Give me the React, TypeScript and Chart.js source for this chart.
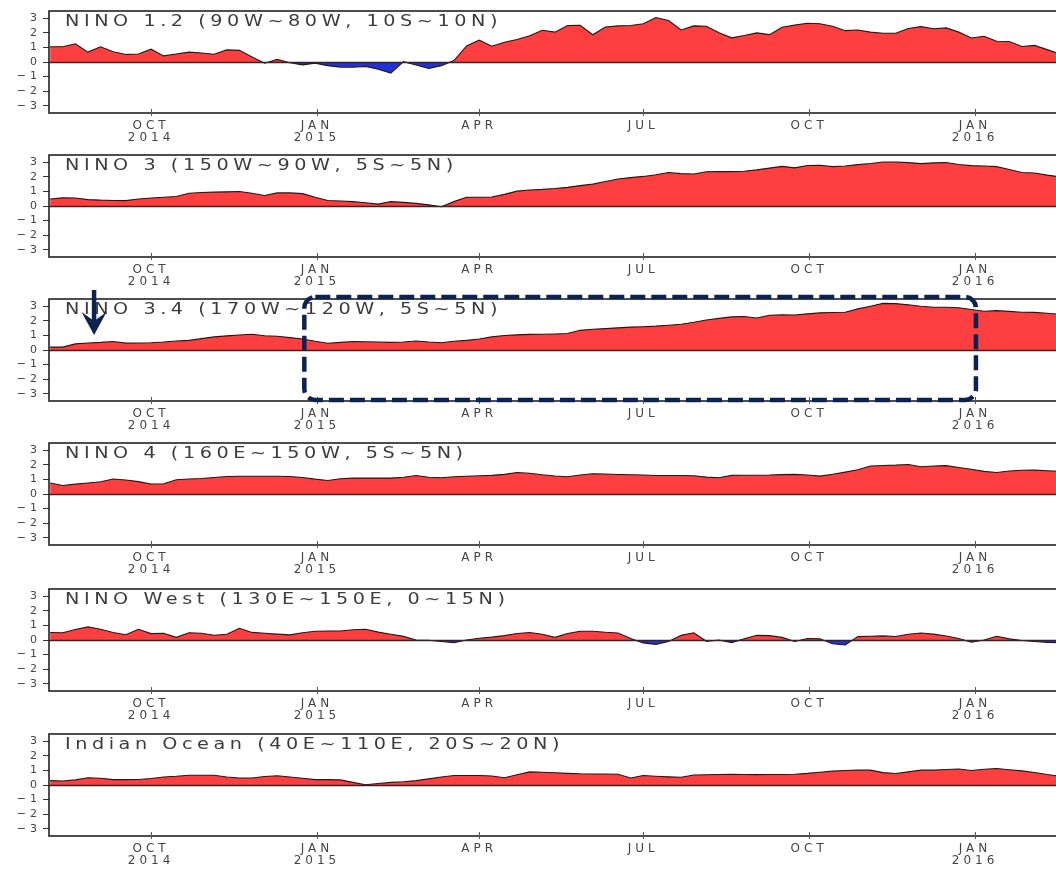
import React, { useEffect, useRef } from "react";
import { Chart, registerables } from "chart.js";

Chart.register(...registerables);

// Day numbers are counted from 2014-01-01 (day 0). Weekly means start on 2014-08-06.
const FIRST_WEEK_DAY = 217;
const WEEK_STEP = 7;
const WEEK_COUNT = 81;
const weekDays: number[] = Array.from({ length: WEEK_COUNT }, (_, i) => FIRST_WEEK_DAY + WEEK_STEP * i);

// Quarter ticks: 2014-10-01, 2015-01-01, 2015-04-01, 2015-07-01, 2015-10-01, 2016-01-01
const tickDays = [273, 365, 455, 546, 638, 730];
const tickLabels: string[][] = [["OCT", "2014"], ["JAN", "2015"], ["APR"], ["JUL"], ["OCT"], ["JAN", "2016"]];
const yTicks = [-3, -2, -1, 0, 1, 2, 3];

const regionTitles = [
  "NINO 1.2 (90W~80W, 10S~10N)",
  "NINO 3 (150W~90W, 5S~5N)",
  "NINO 3.4 (170W~120W, 5S~5N)",
  "NINO 4 (160E~150W, 5S~5N)",
  "NINO West (130E~150E, 0~15N)",
  "Indian Ocean (40E~110E, 20S~20N)",
];

// Weekly SST anomalies (°C)
const nino12 = [
  1.05, 1.05, 1.25, 0.68, 1.04, 0.7, 0.52, 0.55, 0.88, 0.42,
  0.55, 0.68, 0.62, 0.53, 0.83, 0.8, 0.35, -0.08, 0.18, -0.05,
  -0.2, -0.08, -0.25, -0.35, -0.36, -0.3, -0.5, -0.76, 0.02, -0.2,
  -0.44, -0.25, 0.1, 1.1, 1.5, 1.08, 1.35, 1.55, 1.8, 2.18,
  2.05, 2.5, 2.52, 1.87, 2.4, 2.48, 2.5, 2.62, 3.05, 2.85,
  2.2, 2.48, 2.45, 2.0, 1.66, 1.82, 2.0, 1.88, 2.38, 2.53,
  2.66, 2.62, 2.45, 2.15, 2.2, 2.05, 1.97, 1.97, 2.3, 2.43,
  2.28, 2.34, 2.05, 1.65, 1.77, 1.42, 1.41, 1.06, 1.14, 0.85,
  0.55,
];

const nino3 = [
  0.48, 0.56, 0.55, 0.44, 0.4, 0.38, 0.37, 0.48, 0.55, 0.6,
  0.65, 0.88, 0.93, 0.95, 0.97, 1.0, 0.88, 0.72, 0.9, 0.9,
  0.85, 0.6, 0.38, 0.34, 0.3, 0.22, 0.13, 0.3, 0.25, 0.18,
  0.08, -0.05, 0.3, 0.6, 0.6, 0.62, 0.8, 1.02, 1.1, 1.14,
  1.2, 1.28, 1.4, 1.5, 1.68, 1.85, 1.95, 2.03, 2.15, 2.3,
  2.22, 2.2, 2.35, 2.36, 2.36, 2.38, 2.48, 2.6, 2.72, 2.62,
  2.78, 2.8, 2.7, 2.75, 2.84, 2.92, 3.02, 3.02, 2.98, 2.91,
  2.96, 2.98, 2.85, 2.77, 2.75, 2.7, 2.5, 2.3, 2.26, 2.12,
  2.0,
];

const nino34 = [
  0.2, 0.2, 0.42, 0.48, 0.52, 0.58, 0.47, 0.48, 0.5, 0.55,
  0.62, 0.66, 0.78, 0.9, 0.97, 1.03, 1.08, 0.98, 0.94, 0.85,
  0.76, 0.6, 0.46, 0.52, 0.58, 0.57, 0.55, 0.52, 0.55, 0.62,
  0.55, 0.5, 0.6, 0.66, 0.76, 0.9, 1.0, 1.04, 1.07, 1.08,
  1.1, 1.13, 1.35, 1.42, 1.47, 1.52, 1.57, 1.6, 1.64, 1.7,
  1.77, 1.9, 2.06, 2.17, 2.27, 2.3, 2.2, 2.38, 2.42, 2.4,
  2.48, 2.55, 2.57, 2.59, 2.82, 3.0, 3.2, 3.18, 3.1, 3.0,
  2.93, 2.93, 2.9, 2.78, 2.66, 2.7, 2.65, 2.59, 2.58, 2.52,
  2.45,
];

const nino4 = [
  0.76, 0.58, 0.68, 0.76, 0.84, 1.03, 0.96, 0.85, 0.69, 0.7,
  0.98, 1.03, 1.06, 1.13, 1.2, 1.22, 1.22, 1.22, 1.22, 1.2,
  1.13, 1.02, 0.93, 1.05, 1.09, 1.09, 1.09, 1.09, 1.15, 1.27,
  1.15, 1.12, 1.18, 1.22, 1.25, 1.28, 1.35, 1.48, 1.42, 1.32,
  1.24, 1.18, 1.3, 1.39, 1.37, 1.34, 1.32, 1.3, 1.27, 1.27,
  1.27, 1.25, 1.16, 1.12, 1.28, 1.29, 1.29, 1.3, 1.33, 1.35,
  1.3, 1.23, 1.35, 1.5, 1.66, 1.92, 1.96, 1.98, 2.02, 1.87,
  1.92, 1.95, 1.82, 1.7, 1.55, 1.48, 1.58, 1.63, 1.64, 1.6,
  1.56,
];

const ninoWest = [
  0.51, 0.5, 0.72, 0.9, 0.74, 0.51, 0.36, 0.74, 0.44, 0.46,
  0.18, 0.5, 0.46, 0.33, 0.39, 0.8, 0.52, 0.46, 0.4, 0.35,
  0.5, 0.6, 0.62, 0.62, 0.7, 0.74, 0.54, 0.4, 0.25, 0.0,
  -0.02, -0.1, -0.18, 0.0, 0.12, 0.2, 0.3, 0.45, 0.51, 0.4,
  0.18, 0.45, 0.6, 0.6, 0.53, 0.48, 0.1, -0.2, -0.3, -0.1,
  0.32, 0.5, -0.09, 0.0, -0.18, 0.08, 0.32, 0.3, 0.18, -0.1,
  0.1, 0.08, -0.26, -0.34, 0.23, 0.26, 0.28, 0.24, 0.4, 0.48,
  0.4, 0.28, 0.1, -0.15, 0.0, 0.26, 0.08, -0.03, -0.1, -0.16,
  -0.18,
];

const indianOcean = [
  0.3, 0.27, 0.35, 0.5, 0.46, 0.37, 0.37, 0.38, 0.45, 0.55,
  0.6, 0.67, 0.67, 0.67, 0.55, 0.48, 0.48, 0.58, 0.63, 0.55,
  0.46, 0.37, 0.37, 0.35, 0.18, 0.02, 0.1, 0.18, 0.22, 0.3,
  0.42, 0.55, 0.65, 0.65, 0.65, 0.62, 0.5, 0.7, 0.9, 0.87,
  0.84, 0.8, 0.77, 0.76, 0.76, 0.74, 0.48, 0.65, 0.6, 0.56,
  0.53, 0.69, 0.7, 0.72, 0.73, 0.72, 0.71, 0.72, 0.72, 0.74,
  0.8, 0.88, 0.95, 1.0, 1.02, 1.02, 0.85, 0.79, 0.9, 1.02,
  1.02, 1.06, 1.1, 1.0, 1.08, 1.13, 1.05, 0.97, 0.86, 0.72,
  0.6,
];

const panelSeries = [nino12, nino3, nino34, nino4, ninoWest, indianOcean];

// Highlighted period on the NINO 3.4 panel (days) and the marker arrow position
const HIGHLIGHT_PANEL = 2;
const highlightDays = [358, 730.5];
const highlightRange = [3.64, -3.43];
const arrowDay = 241.4;
const arrowRange = [4.12, 1.03];

// Layout / style
const X_MIN = 216.4;
const X_MAX = 779.9;
const Y_MIN = -3.5;
const Y_MAX = 3.5;
const CANVAS_W = 1070;
const CANVAS_H = 146;
const PANEL_TOPS = [0, 144, 288, 432, 578, 723];
const WARM = "#fd3f3f";
const COOL = "#1f33d6";
const OUTLINE = "#2a1414";
const FRAME = "#222222";
const TEXT = "#444444";
const NAVY = "#0c2252";
const FONT = '"DejaVu Sans", "Liberation Sans", sans-serif';

function makePanelPlugin(title: string, highlighted: boolean) {
  return {
    id: "panelDecor",
    beforeDraw(chart: any) {
      chart.ctx.letterSpacing = "4px";
    },
    afterDraw(chart: any) {
      const { ctx, chartArea, scales } = chart;
      const xs = scales.x;
      const ys = scales.y;
      ctx.save();
      ctx.letterSpacing = "0px";

      // zero line
      const y0 = Math.round(ys.getPixelForValue(0)) + 0.5;
      ctx.strokeStyle = "#3a2222";
      ctx.lineWidth = 1.3;
      ctx.beginPath();
      ctx.moveTo(chartArea.left, y0);
      ctx.lineTo(chartArea.right, y0);
      ctx.stroke();

      // frame
      ctx.strokeStyle = FRAME;
      ctx.lineWidth = 1.6;
      ctx.strokeRect(chartArea.left, chartArea.top, chartArea.right - chartArea.left, chartArea.bottom - chartArea.top);

      // quarter tick marks across the bottom axis
      ctx.lineWidth = 1;
      ctx.strokeStyle = "#555";
      for (const d of tickDays) {
        const px = Math.round(xs.getPixelForValue(d)) + 0.5;
        ctx.beginPath();
        ctx.moveTo(px, chartArea.bottom - 4);
        ctx.lineTo(px, chartArea.bottom + 3);
        ctx.stroke();
      }

      // region title inside the plot
      ctx.translate(chartArea.left + 16, chartArea.top + 11);
      ctx.scale(1.2, 1);
      ctx.font = `16px ${FONT}`;
      ctx.letterSpacing = "3.8px";
      ctx.textBaseline = "middle";
      ctx.textAlign = "left";
      ctx.fillStyle = "#3c3c3c";
      ctx.fillText(title, 0, 0);
      ctx.restore();

      if (highlighted) {
        ctx.save();
        // dashed rounded box marking the highlighted period
        const bx1 = xs.getPixelForValue(highlightDays[0]);
        const bx2 = xs.getPixelForValue(highlightDays[1]);
        const by1 = ys.getPixelForValue(highlightRange[0]);
        const by2 = ys.getPixelForValue(highlightRange[1]);
        ctx.strokeStyle = NAVY;
        ctx.lineWidth = 4.5;
        ctx.setLineDash([15, 6]);
        ctx.beginPath();
        ctx.roundRect(bx1, by1, bx2 - bx1, by2 - by1, 11);
        ctx.stroke();
        ctx.setLineDash([]);

        // downward arrow
        const ax = xs.getPixelForValue(arrowDay);
        const aTop = ys.getPixelForValue(arrowRange[0]);
        const aTip = ys.getPixelForValue(arrowRange[1]);
        const headLen = 23;
        const headHalf = 12.5;
        ctx.strokeStyle = NAVY;
        ctx.fillStyle = NAVY;
        ctx.lineWidth = 4.5;
        ctx.beginPath();
        ctx.moveTo(ax, aTop);
        ctx.lineTo(ax, aTip - 10);
        ctx.stroke();
        ctx.beginPath();
        ctx.moveTo(ax, aTip);
        ctx.lineTo(ax - headHalf, aTip - headLen);
        ctx.lineTo(ax, aTip - headLen + 9);
        ctx.lineTo(ax + headHalf, aTip - headLen);
        ctx.closePath();
        ctx.fill();
        ctx.restore();
      }
      ctx.letterSpacing = "0px";
    },
  };
}

function Panel({ index }: { index: number }) {
  const ref = useRef<HTMLCanvasElement | null>(null);

  useEffect(() => {
    const canvas = ref.current;
    if (!canvas) return;
    const values = panelSeries[index];
    const chart = new Chart(canvas, {
      type: "line",
      data: {
        datasets: [
          {
            data: weekDays.map((d, i) => ({ x: d, y: values[i] })),
            borderColor: OUTLINE,
            borderWidth: 1.1,
            pointRadius: 0,
            tension: 0,
            fill: { target: { value: 0 }, above: WARM, below: COOL },
          } as any,
        ],
      },
      options: {
        animation: false,
        responsive: false,
        events: [],
        layout: { padding: { top: 11, right: 5, left: 0, bottom: 0 } },
        plugins: {
          legend: { display: false },
          tooltip: { enabled: false },
          title: { display: false },
        },
        scales: {
          x: {
            type: "linear",
            min: X_MIN,
            max: X_MAX,
            afterFit: (s: any) => {
              s.height = 33;
            },
            afterBuildTicks: (a: any) => {
              a.ticks = tickDays.map((v) => ({ value: v }));
            },
            ticks: {
              autoSkip: false,
              maxRotation: 0,
              padding: 7,
              color: TEXT,
              font: { family: FONT, size: 12, lineHeight: 1.0 },
              callback: (v: any) => {
                const i = tickDays.indexOf(Number(v));
                return i >= 0 ? tickLabels[i] : "";
              },
            },
            grid: { drawOnChartArea: false, drawTicks: false, display: false },
            border: { display: false },
          },
          y: {
            min: Y_MIN,
            max: Y_MAX,
            afterFit: (s: any) => {
              s.width = 49;
            },
            afterBuildTicks: (a: any) => {
              a.ticks = yTicks.map((v) => ({ value: v }));
            },
            ticks: {
              padding: 2,
              color: TEXT,
              font: { family: FONT, size: 11 },
              callback: (v: any) => (Number(v) < 0 ? "\u2212" + Math.abs(Number(v)) : String(v)),
            },
            grid: { drawOnChartArea: false, drawTicks: true, tickLength: 6, color: "#333", lineWidth: 1 },
            border: { display: false },
          },
        },
      } as any,
      plugins: [makePanelPlugin(regionTitles[index], index === HIGHLIGHT_PANEL)],
    });
    return () => chart.destroy();
  }, [index]);

  return (
    <canvas
      ref={ref}
      width={CANVAS_W}
      height={CANVAS_H}
      style={{ position: "absolute", left: 0, top: PANEL_TOPS[index], width: CANVAS_W, height: CANVAS_H }}
    />
  );
}

export default function App() {
  return (
    <div
      style={{
        position: "absolute",
        left: 0,
        top: 0,
        width: 1056,
        height: 869,
        overflow: "hidden",
        background: "#ffffff",
      }}
    >
      {panelSeries.map((_, i) => (
        <Panel key={i} index={i} />
      ))}
    </div>
  );
}
